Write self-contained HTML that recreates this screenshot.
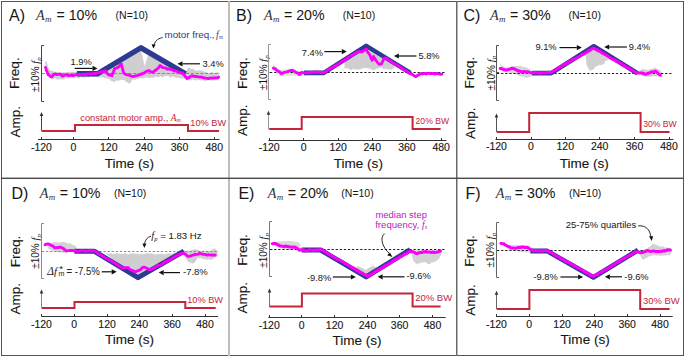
<!DOCTYPE html>
<html><head><meta charset="utf-8"><style>
html,body{margin:0;padding:0;background:#fff;overflow:hidden;}
svg{display:block;} text.b{stroke:#161616;stroke-width:0.12px;}
</style></head><body>
<svg width="685" height="357" viewBox="0 0 685 357">
<rect width="685" height="357" fill="#fff"/>
<g fill="#161616" font-family='"Liberation Sans", sans-serif'>
<rect x="1.5" y="1.5" width="682" height="354" fill="none" stroke="#555" stroke-width="1"/>
<rect x="228" y="1" width="2" height="355" fill="#bdbdbd"/>
<rect x="456" y="1" width="1.5" height="355" fill="#6a6a6a"/>
<rect x="1" y="177.6" width="683" height="1.4" fill="#4a4a4a"/>
<text x="9.0" y="21.299999999999997" font-size="16">A)</text>
<text x="36.1" y="19.5" font-size="14.2" font-family='"Liberation Serif", serif' font-style="italic" fill="#333">A</text>
<text x="45.1" y="21.9" font-size="9" font-family='"Liberation Serif", serif' font-style="italic" fill="#333">m</text>
<text x="56.5" y="19.9" font-size="14.2">= 10%</text>
<text x="115.6" y="19.2" font-size="10.5">(N=10)</text>
<text class="b" transform="translate(19.3,73.2) rotate(-90)" text-anchor="middle" font-size="13.6" >Freq.</text>
<text class="b" transform="translate(19.7,121.7) rotate(-90)" text-anchor="middle" font-size="13.5" >Amp.</text>
<text transform="translate(39.2,74.6) rotate(-90)" text-anchor="middle" font-size="10">±10% <tspan font-family='"Liberation Serif", serif' font-style="italic" font-size="10.5">f</tspan><tspan font-family='"Liberation Serif", serif' font-style="italic" font-size="7" dy="1.5">p</tspan></text>
<path d="M44.0,45.5 H41.5 V101.5 H44.0 M41.5,73.5 H44.0" fill="none" stroke="#444" stroke-width="1"/>
<polygon points="45.0,61.0 47.0,62.0 48.0,67.0 50.0,70.0 54.0,71.5 58.0,72.0 62.0,72.5 70.0,72.0 80.0,72.0 90.0,72.5 98.0,72.5 110.0,64.0 125.0,55.0 138.8,49.0 141.0,50.0 144.6,66.3 148.3,54.6 165.0,62.0 183.0,71.0 186.0,72.0 186.5,71.0 187.0,69.9 187.5,69.1 188.0,68.0 189.0,67.5 190.0,67.5 191.0,68.9 192.0,69.0 193.0,68.6 194.0,69.4 195.0,70.3 196.0,70.2 197.0,71.1 198.0,70.5 199.0,70.3 200.0,70.6 201.0,70.8 202.0,70.6 203.0,70.7 204.0,71.8 205.0,72.0 206.0,71.7 207.0,72.3 208.0,73.1 209.0,73.3 210.0,72.9 211.0,72.1 212.0,72.5 213.0,72.3 214.0,73.3 215.0,72.0 216.0,73.1 217.0,72.0 218.0,72.4 219.0,72.5 219.0,73.7 219.0,75.6 219.0,76.2 219.0,77.5 219.0,77.6 219.0,78.6 219.0,80.0 210.0,80.5 209.0,79.8 208.0,80.4 207.0,80.4 206.0,81.1 205.0,80.8 204.0,80.7 203.0,80.5 202.0,79.5 201.0,80.8 200.0,80.0 199.0,79.9 198.0,80.2 197.0,79.4 196.0,79.9 195.0,80.9 194.0,79.6 193.0,79.6 192.0,80.1 191.0,80.2 190.0,80.5 189.0,80.2 188.0,79.9 187.0,79.0 186.0,78.4 185.0,79.0 184.0,78.5 183.0,78.2 182.0,78.5 181.0,78.3 180.0,78.4 179.0,77.7 178.0,77.4 177.0,77.7 176.0,77.9 175.0,77.0 174.0,77.2 173.0,76.0 172.0,76.5 171.0,77.6 170.0,77.6 169.0,76.3 168.0,76.1 167.0,75.7 166.0,75.9 165.0,76.5 164.0,75.8 163.0,77.5 162.0,77.5 161.0,76.4 160.0,75.9 159.0,77.5 158.0,77.1 157.0,77.6 156.0,76.6 155.0,77.0 154.0,77.7 153.0,77.7 152.0,77.6 151.0,77.7 150.0,77.9 149.0,77.5 148.0,78.5 147.0,77.1 146.0,77.7 145.0,78.0 144.0,77.9 143.0,78.3 142.0,79.0 141.0,77.8 140.0,78.6 139.0,78.8 138.0,79.0 137.0,78.9 136.0,79.4 135.0,79.7 134.0,79.6 133.0,79.5 132.3,80.2 131.5,80.7 130.8,82.5 130.1,82.9 129.3,83.4 128.6,83.8 127.7,82.3 126.8,82.1 125.8,81.9 124.9,80.2 124.0,80.0 123.0,79.9 122.0,79.9 121.0,79.4 120.0,80.6 119.0,80.0 118.0,81.2 117.0,80.5 116.0,80.8 115.0,81.4 114.0,82.3 113.1,82.1 112.3,80.7 111.4,81.1 110.6,80.9 109.7,78.8 108.9,79.4 108.0,78.5 107.0,78.7 106.0,78.3 105.0,78.2 104.0,77.4 103.0,76.9 102.0,78.1 101.0,76.6 100.0,77.0 99.0,77.7 98.0,77.5 97.0,76.8 96.0,77.0 95.0,76.6 94.0,76.5 93.0,77.6 92.0,76.2 91.0,76.5 90.0,77.0 89.0,77.9 88.0,76.8 87.0,77.3 86.0,77.4 85.0,77.6 84.0,77.9 83.0,77.9 82.0,77.0 81.0,77.2 80.0,77.5 79.0,78.4 78.0,78.3 77.0,77.5 76.0,77.3 75.0,77.6 74.0,78.4 73.0,77.4 72.0,77.1 71.0,77.2 70.0,78.0 69.0,77.6 68.0,78.9 67.0,77.7 66.0,77.7 65.0,78.9 64.0,79.3 63.0,79.6 62.0,79.5 61.0,79.7 60.0,79.0 59.0,79.6 58.0,79.8 57.0,78.9 56.0,79.7 55.0,78.2 54.0,78.6 53.0,79.8 52.0,79.0 46.0,73.0" fill="#cfcfcf"/>
<path d="M42,73.5 H220" stroke="#8a8a8a" stroke-width="1.2" stroke-dasharray="3,1.8"/>
<polyline points="79.5,73.8 97.5,73.8 141.0,47.8 183.2,72.4" fill="none" stroke="#2c3a91" stroke-width="5.4" stroke-linejoin="round" stroke-linecap="square"/>
<polyline points="45.4,67.4 45.9,68.3 46.3,70.1 46.8,71.3 47.3,72.0 47.7,73.5 48.2,74.7 49.3,75.4 50.5,76.4 51.6,77.0 52.5,76.3 53.4,74.8 54.3,74.2 55.5,73.9 56.8,74.7 58.0,74.5 60.0,74.0 61.0,74.9 62.0,76.0 63.3,75.9 64.7,74.9 66.0,75.0 67.3,75.1 68.7,75.5 70.0,75.5 71.2,75.1 72.5,75.7 73.8,75.5 75.0,75.0 76.2,74.5 77.5,74.3 78.8,74.7 80.0,74.5 81.2,74.9 82.5,74.4 83.8,74.2 85.0,74.5 86.2,74.3 87.5,73.8 88.8,73.9 90.0,74.0 91.2,73.8 92.4,73.8 93.6,73.5 94.8,73.4 96.0,73.5 97.2,72.9 98.3,72.8 99.5,72.3 100.6,71.7 101.8,72.1 102.9,71.5 104.0,71.2 105.2,70.7 106.1,71.5 107.1,73.3 108.0,74.2 108.9,75.0 110.3,75.1 111.8,75.8 112.3,74.4 112.8,73.6 113.2,72.3 113.7,71.3 114.2,69.6 114.7,68.5 115.9,68.3 117.2,67.7 118.4,67.0 119.4,65.8 120.3,64.9 121.3,63.8 121.6,65.4 121.9,66.7 122.2,67.7 122.6,69.0 122.9,69.8 123.2,71.3 123.5,72.8 125.0,74.0 126.4,74.7 127.6,74.9 128.8,75.0 130.1,75.6 131.3,76.1 132.5,76.4 133.7,76.5 135.0,76.0 136.2,75.7 137.5,75.4 138.8,75.0 140.0,74.8 141.1,74.1 142.3,73.6 143.4,73.2 144.6,72.8 145.7,71.8 146.8,71.2 147.9,71.2 149.0,70.4 150.2,71.5 151.5,71.8 152.7,72.4 153.9,71.5 155.1,70.4 156.3,69.9 157.2,68.8 158.2,68.1 159.1,66.8 160.0,65.5 161.2,66.3 162.4,67.3 163.6,67.7 164.8,67.8 166.0,68.3 167.1,69.0 168.3,69.0 169.5,69.2 170.7,69.5 171.9,69.7 173.2,70.3 174.4,71.1 175.6,70.6 176.8,71.4 178.2,72.0 179.7,72.4 181.2,72.8 182.6,72.8 183.3,74.0 184.1,75.0 184.8,75.8 185.5,76.8 186.3,77.7 187.0,78.7 188.1,77.6 189.2,77.6 190.3,76.6 191.4,75.8 192.9,75.8 194.5,76.3 196.0,76.5 197.5,76.7 198.9,76.8 200.4,77.1 201.8,77.2 203.1,77.6 204.5,78.0 205.9,78.2 207.2,78.3 208.6,78.6 210.0,78.0 211.3,78.1 212.7,78.2 213.9,77.7 215.1,77.8 216.4,77.9 217.6,77.6 218.8,77.1" fill="none" stroke="#fa00fa" stroke-width="2.8" stroke-linejoin="round" stroke-linecap="round"/>
<text x="70.5" y="64.6" font-size="9.9" fill="#161616" textLength="21.2" lengthAdjust="spacingAndGlyphs">1.9%</text>
<path d="M74.7,68.4 H92.5" stroke="#111" stroke-width="1.2"/>
<path d="M97.5,68.4 L92.5,65.80000000000001 L92.5,71.0 Z" fill="#111"/>
<text x="202.5" y="67" font-size="9.9" fill="#161616" textLength="21.2" lengthAdjust="spacingAndGlyphs">3.4%</text>
<path d="M200,63.8 H182.5" stroke="#111" stroke-width="1.2"/>
<path d="M177.5,63.8 L182.5,61.199999999999996 L182.5,66.39999999999999 Z" fill="#111"/>
<text x="164.5" y="38.1" font-size="9.8" fill="#2c3a91">motor freq.,<tspan dx="1.5" font-family='"Liberation Serif", serif' font-style="italic" font-size="9.5">f</tspan><tspan font-family='"Liberation Serif", serif' font-style="italic" font-size="5.5" dy="1.3" dx="0.2">m</tspan></text>
<path d="M162.6,37.6 C157,38.5 154.5,42 154,46" fill="none" stroke="#111" stroke-width="0.9"/>
<path d="M153.4,48.5 L151.6,44.2 L155.6,44.6 Z" fill="#111"/>
<path d="M41.5,130.6 V115" stroke="#444" stroke-width="1"/>
<path d="M41.5,112 L39.7,116 L43.3,116 Z" fill="#333"/>
<polyline points="41.6,131 75,131 75,125 188,125 188,131 219.1,131" fill="none" stroke="#c3253a" stroke-width="2"/>
<text x="80.2" y="120.7" font-size="9.4" fill="#c3253a">constant motor amp., <tspan font-family='"Liberation Serif", serif' font-style="italic">A</tspan><tspan font-family='"Liberation Serif", serif' font-style="italic" font-size="6" dy="1">m</tspan></text>
<text x="190.3" y="125.7" font-size="9.8" fill="#c3253a" textLength="35.9" lengthAdjust="spacingAndGlyphs">10% BW</text>
<path d="M38,139.5 H219.6 M41.5,139.5 V137.0 M73.5,139.5 V137.0 M108.5,139.5 V137.0 M144.5,139.5 V137.0 M179.5,139.5 V137.0 M214.5,139.5 V137.0" fill="none" stroke="#333" stroke-width="1"/>
<text class="b" x="41.4" y="150.5" font-size="10.5" text-anchor="middle">-120</text>
<text class="b" x="73.4" y="150.5" font-size="10.5" text-anchor="middle">0</text>
<text class="b" x="108.8" y="150.5" font-size="10.5" text-anchor="middle">120</text>
<text class="b" x="144" y="150.5" font-size="10.5" text-anchor="middle">240</text>
<text class="b" x="179.5" y="150.5" font-size="10.5" text-anchor="middle">360</text>
<text class="b" x="214.3" y="150.5" font-size="10.5" text-anchor="middle">480</text>
<text class="b" x="104.8" y="167.5" font-size="13.5" textLength="49.1" lengthAdjust="spacingAndGlyphs">Time (s)</text>
<text x="236.0" y="21.299999999999997" font-size="16">B)</text>
<text x="263.9" y="19.5" font-size="14.2" font-family='"Liberation Serif", serif' font-style="italic" fill="#333">A</text>
<text x="272.9" y="21.9" font-size="9" font-family='"Liberation Serif", serif' font-style="italic" fill="#333">m</text>
<text x="284.0" y="19.9" font-size="14.2">= 20%</text>
<text x="342.8" y="19.2" font-size="10.5">(N=10)</text>
<text class="b" transform="translate(246.60000000000002,73.2) rotate(-90)" text-anchor="middle" font-size="13.6" >Freq.</text>
<text class="b" transform="translate(247.0,120.35) rotate(-90)" text-anchor="middle" font-size="13.5" >Amp.</text>
<text transform="translate(267.2,72.6) rotate(-90)" text-anchor="middle" font-size="10">±10% <tspan font-family='"Liberation Serif", serif' font-style="italic" font-size="10.5">f</tspan><tspan font-family='"Liberation Serif", serif' font-style="italic" font-size="7" dy="1.5">p</tspan></text>
<path d="M271.0,44.5 H268.5 V99.5 H271.0 M268.5,72.5 H271.0" fill="none" stroke="#999" stroke-width="1"/>
<polygon points="273.0,62.0 275.0,66.0 280.0,70.0 290.0,69.0 300.0,71.0 308.0,71.0 310.0,75.0 300.0,76.0 290.0,75.5 280.0,76.0 275.0,72.0" fill="#dddddd"/>
<polygon points="344.5,60.0 356.3,53.0 359.1,52.0 361.9,52.5 364.7,50.5 366.4,50.0 370.0,51.0 386.0,60.7 394.4,64.5 394.4,68.5 393.3,68.6 392.3,69.0 391.2,70.0 390.1,69.1 389.1,69.4 388.0,69.5 387.0,69.5 386.0,68.4 385.0,69.0 384.0,69.1 383.0,69.3 382.0,67.4 381.0,67.7 380.0,68.0 379.0,67.2 378.0,69.1 377.0,69.0 376.0,67.7 375.0,70.1 374.0,70.2 373.0,69.7 372.0,69.5 371.0,69.7 370.0,68.4 369.0,68.0 368.0,69.1 367.0,67.8 366.0,68.0 365.0,68.0 364.0,68.5 363.0,67.5 362.0,68.7 361.0,68.7 360.0,69.8 359.0,69.2 358.0,69.6 357.0,69.4 356.0,69.5 355.0,69.8 354.0,69.1 353.0,68.6 352.0,70.2 351.0,70.1 350.0,69.6 349.0,69.1 348.0,68.5 346.8,68.2 345.7,68.2 344.5,69.0" fill="#cfcfcf"/>
<path d="M270,72.5 H446" stroke="#222" stroke-width="1" stroke-dasharray="2.3,1.8"/>
<polyline points="306.3,72.9 323.8,72.9 366.2,45.9 408.4,71.7" fill="none" stroke="#2c3a91" stroke-width="4.6" stroke-linejoin="round" stroke-linecap="square"/>
<polyline points="273.3,67.9 274.4,68.9 275.5,69.0 276.9,70.5 278.3,71.2 279.2,71.6 280.2,72.4 281.1,73.5 282.5,73.3 283.9,72.4 285.4,72.2 286.9,71.8 288.4,71.2 289.7,70.7 291.0,70.6 292.3,70.1 293.7,71.0 295.1,71.8 296.2,72.6 297.4,72.9 298.5,73.8 299.6,74.6 300.7,73.4 301.8,72.4 303.5,72.9 305.2,72.9 306.9,73.1 308.6,72.4 309.8,72.8 311.0,72.4 312.3,72.4 313.5,72.2 314.7,72.0 315.9,72.0 317.1,72.4 318.3,72.2 319.6,72.3 320.8,72.8 322.0,72.4 324.2,72.5 325.2,71.9 326.3,71.3 327.3,70.3 328.3,69.5 329.4,69.1 330.4,68.3 331.4,68.0 332.5,67.8 333.5,66.9 334.6,65.8 335.6,65.8 336.6,65.0 337.7,64.3 338.7,63.8 339.7,63.1 340.8,62.4 341.8,61.4 342.8,61.3 343.9,60.7 344.9,59.3 345.9,59.2 347.0,58.5 348.0,57.6 349.1,57.0 350.1,56.4 351.1,56.1 352.2,55.1 353.2,54.7 354.2,53.7 355.3,53.5 356.3,52.5 357.7,52.3 359.1,51.4 360.5,51.7 361.9,52.0 363.3,51.0 364.7,49.8 366.4,49.2 366.9,50.7 367.5,51.7 368.0,52.6 368.9,53.7 369.7,54.8 370.2,55.7 370.6,56.9 371.1,58.3 371.5,59.0 372.0,60.4 372.5,59.5 373.1,57.6 373.6,56.5 374.3,58.0 375.0,58.6 375.7,60.3 376.4,61.0 377.3,62.3 378.3,63.2 379.2,64.3 381.5,63.8 382.1,62.7 382.6,61.7 383.2,60.5 383.7,59.2 384.3,58.2 386.0,58.2 387.0,58.6 388.0,59.5 389.1,60.5 390.1,60.9 391.1,61.1 392.1,62.4 393.1,63.0 394.2,63.8 395.2,63.8 396.2,64.9 397.2,65.0 398.2,66.1 399.3,66.4 400.3,67.1 401.3,68.3 402.3,68.2 403.4,69.3 404.4,70.2 405.4,70.3 406.4,70.9 407.4,72.2 408.5,72.4 409.5,73.3 410.5,73.8 411.8,74.1 413.0,75.1 414.2,75.7 415.5,76.7 416.6,76.2 417.8,75.0 418.9,75.1 420.0,74.0 421.2,73.5 422.5,74.1 423.8,73.4 425.0,73.5 426.2,74.0 427.5,73.3 428.8,73.3 430.0,73.5 431.2,73.7 432.4,73.5 433.6,73.3 434.8,74.2 436.0,73.5 437.2,73.4 438.4,73.8 439.6,74.1 440.8,74.3 442.0,74.1" fill="none" stroke="#fa00fa" stroke-width="2.8" stroke-linejoin="round" stroke-linecap="round"/>
<text x="301.8" y="56" font-size="9.9" fill="#161616" textLength="21.2" lengthAdjust="spacingAndGlyphs">7.4%</text>
<path d="M324.3,51.6 H341.8" stroke="#111" stroke-width="1.2"/>
<path d="M346.8,51.6 L341.8,49.0 L341.8,54.2 Z" fill="#111"/>
<text x="418.4" y="59.4" font-size="9.9" fill="#161616" textLength="21.2" lengthAdjust="spacingAndGlyphs">5.8%</text>
<path d="M416.5,56.0 H398.9" stroke="#111" stroke-width="1.2"/>
<path d="M393.9,56.0 L398.9,53.4 L398.9,58.6 Z" fill="#111"/>
<path d="M268.5,129.4 V113.8" stroke="#999" stroke-width="1"/>
<path d="M268.5,110.8 L266.7,114.8 L270.3,114.8 Z" fill="#333"/>
<polyline points="269.2,129 301.7,129 301.7,117 412.6,117 412.6,129 440.6,129" fill="none" stroke="#c3253a" stroke-width="2"/>
<text x="415.6" y="123.7" font-size="9.8" fill="#c3253a" textLength="33.4" lengthAdjust="spacingAndGlyphs">20% BW</text>
<path d="M268.4,140.5 H446.4 M269.5,140.5 V138.0 M303.5,140.5 V138.0 M338.5,140.5 V138.0 M372.5,140.5 V138.0 M406.5,140.5 V138.0 M441.5,140.5 V138.0" fill="none" stroke="#333" stroke-width="1"/>
<text class="b" x="269.2" y="150.9" font-size="10.5" text-anchor="middle">-120</text>
<text class="b" x="303.6" y="150.9" font-size="10.5" text-anchor="middle">0</text>
<text class="b" x="338.2" y="150.9" font-size="10.5" text-anchor="middle">120</text>
<text class="b" x="372.3" y="150.9" font-size="10.5" text-anchor="middle">240</text>
<text class="b" x="406.9" y="150.9" font-size="10.5" text-anchor="middle">360</text>
<text class="b" x="441.2" y="150.9" font-size="10.5" text-anchor="middle">480</text>
<text class="b" x="333.8" y="168.4" font-size="13.5" textLength="49.1" lengthAdjust="spacingAndGlyphs">Time (s)</text>
<text x="463.5" y="21.299999999999997" font-size="16">C)</text>
<text x="490.0" y="19.5" font-size="14.2" font-family='"Liberation Serif", serif' font-style="italic" fill="#333">A</text>
<text x="499.0" y="21.9" font-size="9" font-family='"Liberation Serif", serif' font-style="italic" fill="#333">m</text>
<text x="510.0" y="19.9" font-size="14.2">= 30%</text>
<text x="568.5" y="19.2" font-size="10.5">(N=10)</text>
<text class="b" transform="translate(473.8,72.7) rotate(-90)" text-anchor="middle" font-size="13.6" >Freq.</text>
<text class="b" transform="translate(474.7,123.2) rotate(-90)" text-anchor="middle" font-size="13.5" >Amp.</text>
<text transform="translate(494.7,73.2) rotate(-90)" text-anchor="middle" font-size="10">±10% <tspan font-family='"Liberation Serif", serif' font-style="italic" font-size="10.5">f</tspan><tspan font-family='"Liberation Serif", serif' font-style="italic" font-size="7" dy="1.5">p</tspan></text>
<path d="M499.0,45.5 H496.5 V100.5 H499.0 M496.5,72.5 H499.0" fill="none" stroke="#555" stroke-width="1"/>
<polygon points="499.0,62.0 502.0,66.0 506.0,68.0 514.0,66.0 520.0,66.0 521.0,65.5 522.0,66.6 523.0,67.4 524.0,66.6 525.0,67.0 526.0,67.5 527.0,67.6 528.0,68.6 529.0,68.9 530.0,69.0 530.7,70.2 531.3,71.8 532.0,72.0 532.0,73.3 532.0,73.7 532.0,74.8 532.0,76.0 527.0,78.0 520.0,76.0 512.0,73.0 503.0,72.0" fill="#d6d6d6"/>
<polygon points="585.7,54.8 594.0,48.0 600.0,52.0 605.0,56.0 609.2,59.3 608.1,59.4 607.1,60.7 606.0,61.0 605.2,60.8 604.4,64.0 603.6,63.8 602.4,64.8 601.2,65.5 600.0,64.5 599.0,64.7 598.0,66.0 597.2,65.9 596.4,66.1 595.6,67.1 594.8,67.3 594.0,69.0 592.9,69.8 591.8,69.4 590.7,70.9 589.6,70.5 586.5,64.9" fill="#d0d0d0"/>
<polygon points="638.0,72.0 642.0,69.0 648.0,70.0 655.0,68.0 660.0,70.0 662.0,73.0 662.0,77.0 655.0,76.0 648.0,77.0 642.0,76.0" fill="#cfcfcf"/>
<path d="M497,73.5 H673" stroke="#222" stroke-width="1" stroke-dasharray="2.3,1.8"/>
<polyline points="534.3,73.1 551.3,73.1 593.8,46.3 635.4,72.1" fill="none" stroke="#2c3a91" stroke-width="4.6" stroke-linejoin="round" stroke-linecap="square"/>
<polyline points="500.2,68.4 501.6,68.6 503.0,69.3 504.6,69.7 506.3,70.1 507.7,69.6 509.1,69.3 510.5,68.8 511.9,68.2 514.2,68.7 515.3,69.5 516.4,69.8 517.5,70.9 519.2,70.8 520.9,71.6 522.2,71.9 523.6,71.5 524.9,71.5 526.3,72.2 527.6,71.8 529.1,72.1 530.6,72.7 532.1,72.7 533.4,72.7 534.7,72.8 535.9,72.4 537.2,72.8 538.5,73.0 539.8,72.7 541.0,72.9 542.3,72.9 543.6,72.3 544.9,72.9 546.2,72.8 547.4,72.5 548.7,72.3 550.0,72.7 551.1,72.4 552.1,71.5 553.2,71.1 554.3,70.6 555.3,69.9 556.4,69.5 557.5,68.4 558.5,68.2 559.6,67.2 560.7,67.1 561.8,66.4 562.8,65.1 563.9,64.5 565.0,64.0 566.0,64.1 567.1,63.0 568.2,62.6 569.2,61.7 570.3,61.3 571.4,60.5 572.4,59.9 573.5,59.5 574.6,58.9 575.6,58.6 576.7,57.8 577.8,57.4 578.8,56.8 579.9,56.3 581.0,55.4 582.0,54.3 583.1,54.3 584.2,53.8 585.3,53.2 586.3,52.3 587.4,51.8 588.5,50.8 589.5,50.7 590.6,49.9 591.7,49.0 592.7,48.2 593.8,48.0 594.9,48.9 595.9,49.7 597.0,49.5 598.0,50.7 599.1,51.0 600.1,51.3 601.2,52.1 602.2,53.1 603.3,53.8 604.3,53.7 605.4,54.8 606.4,54.9 607.5,56.1 608.6,56.4 609.6,57.5 610.7,58.2 611.7,58.4 612.8,59.4 613.8,59.4 614.9,59.8 615.9,60.9 617.0,61.0 618.0,61.8 619.1,62.6 620.1,63.3 621.2,63.5 622.2,64.1 623.3,65.4 624.4,65.5 625.4,66.7 626.5,67.3 627.5,67.4 628.6,68.1 629.6,68.7 630.7,69.5 631.7,70.0 632.8,70.6 633.8,71.3 634.9,72.2 635.9,72.4 637.0,73.0 638.3,72.9 639.5,73.1 640.8,72.9 642.1,73.0 643.4,73.5 644.7,74.0 646.0,74.2 647.2,73.5 648.5,73.2 649.7,72.9 651.1,72.0 652.5,72.0 653.9,71.7 655.3,71.2 656.5,71.6 657.6,72.9 658.5,73.8 659.5,74.6 660.4,75.2" fill="none" stroke="#fa00fa" stroke-width="3.0" stroke-linejoin="round" stroke-linecap="round"/>
<text x="535.4" y="50.4" font-size="9.9" fill="#161616" textLength="21.2" lengthAdjust="spacingAndGlyphs">9.1%</text>
<path d="M559.5,47.6 H576.8" stroke="#111" stroke-width="1.2"/>
<path d="M581.8,47.6 L576.8,45.0 L576.8,50.2 Z" fill="#111"/>
<text x="628.8" y="50.2" font-size="9.9" fill="#161616" textLength="21.2" lengthAdjust="spacingAndGlyphs">9.4%</text>
<path d="M626.9,47.0 H609.2" stroke="#111" stroke-width="1.2"/>
<path d="M604.2,47.0 L609.2,44.4 L609.2,49.6 Z" fill="#111"/>
<path d="M496.5,131.8 V116.4" stroke="#555" stroke-width="1"/>
<path d="M496.5,113.4 L494.7,117.4 L498.3,117.4 Z" fill="#333"/>
<polyline points="496.8,132 529.2,132 529.2,113 640.6,113 640.6,132 669.6,132" fill="none" stroke="#c3253a" stroke-width="2"/>
<text x="643.2" y="126.8" font-size="9.8" fill="#c3253a" textLength="33.5" lengthAdjust="spacingAndGlyphs">30% BW</text>
<path d="M495.5,139.5 H673.4 M496.5,139.5 V137.0 M531.5,139.5 V137.0 M565.5,139.5 V137.0 M599.5,139.5 V137.0 M634.5,139.5 V137.0 M669.5,139.5 V137.0" fill="none" stroke="#333" stroke-width="1"/>
<text class="b" x="496.4" y="150.1" font-size="10.5" text-anchor="middle">-120</text>
<text class="b" x="531" y="150.1" font-size="10.5" text-anchor="middle">0</text>
<text class="b" x="565.3" y="150.1" font-size="10.5" text-anchor="middle">120</text>
<text class="b" x="599.7" y="150.1" font-size="10.5" text-anchor="middle">240</text>
<text class="b" x="634.5" y="150.1" font-size="10.5" text-anchor="middle">360</text>
<text class="b" x="669" y="150.1" font-size="10.5" text-anchor="middle">480</text>
<text class="b" x="559.7" y="167.8" font-size="13.5" textLength="49.1" lengthAdjust="spacingAndGlyphs">Time (s)</text>
<text x="11.4" y="199.3" font-size="16">D)</text>
<text x="39.7" y="197.5" font-size="14.2" font-family='"Liberation Serif", serif' font-style="italic" fill="#333">A</text>
<text x="48.7" y="199.9" font-size="9" font-family='"Liberation Serif", serif' font-style="italic" fill="#333">m</text>
<text x="59.8" y="197.9" font-size="14.2">= 10%</text>
<text x="113.9" y="197.20000000000002" font-size="10.5">(N=10)</text>
<text class="b" transform="translate(19.8,251.5) rotate(-90)" text-anchor="middle" font-size="13.6" >Freq.</text>
<text class="b" transform="translate(19.7,298.7) rotate(-90)" text-anchor="middle" font-size="13.5" >Amp.</text>
<text transform="translate(39.2,251.4) rotate(-90)" text-anchor="middle" font-size="10">±10% <tspan font-family='"Liberation Serif", serif' font-style="italic" font-size="10.5">f</tspan><tspan font-family='"Liberation Serif", serif' font-style="italic" font-size="7" dy="1.5">p</tspan></text>
<path d="M44.0,223.5 H41.5 V278.5 H44.0 M41.5,251.5 H44.0" fill="none" stroke="#888" stroke-width="1"/>
<polygon points="47.0,243.5 48.0,243.1 49.0,242.7 50.0,242.4 51.0,243.4 52.0,242.7 53.0,242.7 54.0,242.3 55.0,242.0 56.0,241.8 57.0,242.4 58.0,242.1 59.0,242.4 60.0,242.3 61.0,242.5 62.0,242.0 63.0,242.1 64.0,241.8 65.0,242.0 66.0,243.1 67.0,242.4 68.0,243.4 69.0,243.5 70.0,243.5 71.0,243.3 72.0,245.0 73.0,245.0 74.0,244.6 75.0,246.3 76.0,246.0 77.0,251.0 62.0,252.5 55.0,252.0 48.0,248.5" fill="#d4d4d4"/>
<polygon points="106.0,253.5 107.0,253.0 108.0,253.8 109.0,253.7 110.0,253.5 111.0,253.0 112.0,254.0 113.0,254.0 114.0,253.5 115.0,253.5 116.0,253.6 117.0,253.3 118.0,253.0 119.0,253.7 120.0,254.0 121.0,254.1 122.0,253.2 123.0,254.3 124.0,253.4 125.0,253.3 126.0,253.0 127.0,254.4 128.0,254.0 129.0,254.2 130.0,253.5 131.0,253.7 132.0,252.9 133.0,253.4 134.0,253.7 135.0,253.1 136.0,254.5 137.0,253.6 138.0,253.3 139.0,254.5 140.0,254.0 141.0,253.3 142.0,254.6 143.0,253.8 144.0,253.9 145.0,253.5 146.0,253.7 147.0,253.1 148.0,252.9 149.0,254.1 150.0,253.5 151.0,253.1 152.0,254.0 153.0,253.2 154.0,254.5 155.0,254.4 156.0,254.2 157.0,254.3 158.0,254.0 159.0,254.3 160.0,254.0 161.0,253.3 162.0,253.9 163.0,254.4 164.0,253.3 165.0,254.4 166.0,254.3 167.0,253.5 168.0,253.4 169.0,253.5 170.0,253.5 171.0,253.3 172.0,254.3 173.0,253.3 174.0,252.7 175.0,252.8 176.0,253.8 177.0,254.3 178.0,253.5 151.7,269.3 148.9,269.7 146.1,267.9 143.3,267.2 139.8,270.0 135.6,271.7 130.7,270.0 127.9,267.5 125.1,267.9 122.3,268.6" fill="#cfcfcf"/>
<polygon points="131.0,270.0 136.0,272.0 140.0,271.0 144.0,268.0 150.0,270.0 146.0,275.0 138.0,275.0" fill="#cfcfcf"/>
<polygon points="183.0,251.0 184.0,250.3 185.0,250.5 186.0,250.8 187.0,251.3 188.0,250.5 189.0,250.5 190.0,251.0 191.0,250.2 192.0,250.6 193.0,249.3 194.0,249.7 195.0,249.0 196.0,249.6 197.0,249.3 198.0,250.2 199.0,250.5 200.0,251.0 201.0,250.9 202.0,251.7 203.0,250.4 204.0,250.3 205.0,251.6 206.0,250.9 207.0,250.6 208.0,250.8 209.0,250.8 210.0,251.0 211.0,251.1 212.0,249.6 213.0,249.1 214.0,249.1 215.0,248.5 216.0,249.4 217.0,250.8 218.0,251.0 217.0,257.0 216.0,256.8 215.0,257.4 214.0,258.0 213.0,259.4 212.0,259.1 211.0,259.9 210.0,260.0 209.0,259.2 208.0,259.6 207.0,259.9 206.0,259.2 205.0,259.0 204.0,259.6 203.0,259.3 202.0,258.4 201.0,257.6 200.0,258.7 199.0,257.5 198.0,258.0 197.3,258.1 196.6,260.1 195.9,261.1 195.1,262.0 194.4,263.0 193.7,262.7 193.0,264.0 192.0,262.9 191.0,262.6 190.0,263.6 189.0,261.8 188.0,262.0 187.4,260.6 186.9,259.5 186.3,258.7 185.7,257.8 185.1,257.5 184.6,256.3 184.0,256.0" fill="#cfcfcf"/>
<path d="M42,251.5 H217.4" stroke="#8a8a8a" stroke-width="1.1" stroke-dasharray="2.3,1.8"/>
<polyline points="76.9,251.2 94.2,251.2 138.0,277.6 181.8,252.4" fill="none" stroke="#2c3a91" stroke-width="5.0" stroke-linejoin="round" stroke-linecap="square"/>
<polyline points="45.0,244.7 46.4,244.1 47.8,244.0 49.0,244.1 50.1,244.8 51.3,245.4 52.5,245.9 53.6,246.7 54.8,247.9 56.2,247.6 57.6,247.5 59.0,247.5 60.4,246.8 61.8,247.8 63.2,248.2 64.1,249.4 65.1,249.8 66.0,251.0 67.4,250.8 68.8,250.5 70.2,250.4 71.6,250.5 73.0,250.5 74.4,251.0 75.6,250.7 76.9,251.4 78.1,251.3 79.3,251.2 80.5,251.2 81.8,250.6 83.0,250.7 84.2,251.0 85.4,251.1 86.7,251.2 87.9,251.2 89.1,250.5 90.3,250.9 91.5,251.0 92.8,250.8 94.0,250.8 95.0,251.1 96.1,252.0 97.1,252.3 98.2,253.7 99.2,254.3 100.3,254.6 101.3,255.0 102.4,256.2 103.4,256.5 104.5,257.4 105.5,258.0 106.6,258.4 107.6,258.9 108.7,259.7 109.7,260.2 110.8,260.6 111.8,261.3 112.9,262.4 113.9,262.4 115.0,263.0 116.0,264.1 117.1,264.5 118.1,265.3 119.2,265.9 120.2,266.4 121.3,267.6 122.3,267.8 123.7,267.6 125.1,267.9 126.5,267.6 127.9,267.5 128.8,268.1 129.8,269.3 130.7,270.0 131.9,270.2 133.1,270.7 134.4,271.5 135.6,271.7 137.0,271.0 138.4,270.6 139.8,270.0 141.0,269.4 142.1,267.8 143.3,267.2 144.7,267.2 146.1,267.9 147.5,268.6 148.9,269.7 150.3,269.7 151.7,269.3 152.8,268.8 153.9,267.9 155.0,267.4 156.0,266.7 157.1,266.3 158.2,265.4 159.3,265.4 160.4,265.0 161.5,264.4 162.6,263.7 163.6,263.3 164.7,261.8 165.8,261.5 166.9,261.5 168.0,260.8 169.1,259.9 170.1,259.8 171.2,258.9 172.3,258.5 173.4,257.4 174.5,256.7 175.6,256.4 176.7,255.5 177.7,255.1 178.8,255.1 179.9,253.9 181.0,253.5 182.8,253.2 184.5,253.7 185.4,254.1 186.4,255.0 187.3,256.1 188.7,256.4 190.1,256.1 191.3,255.6 192.4,255.2 193.6,255.1 195.3,254.4 197.1,254.4 198.5,254.1 199.9,253.0 201.3,253.6 202.7,254.4 204.1,254.4 205.5,254.5 206.9,255.1 208.7,254.7 210.4,255.1 211.6,254.8 212.9,255.3 214.1,254.8 215.3,255.1" fill="none" stroke="#fa00fa" stroke-width="2.8" stroke-linejoin="round" stroke-linecap="round"/>
<text x="151.3" y="239.2" font-size="9.6" fill="#161616"><tspan font-family='"Liberation Serif", serif' font-style="italic" font-size="10.5">f</tspan><tspan font-family='"Liberation Serif", serif' font-style="italic" font-size="6.5" dy="1.5">p</tspan><tspan dy="-1.5"> = 1.83 Hz</tspan></text>
<path d="M151,236 C147,237.5 145,240 144.5,244.5" fill="none" stroke="#111" stroke-width="0.9"/>
<path d="M144.3,248 L142.4,243.6 L146.4,243.8 Z" fill="#111"/>
<text x="47.3" y="274.7" font-size="11.5" font-family='"Liberation Serif", serif' font-style="italic" fill="#222">Δ</text>
<text x="54" y="274.7" font-size="11" font-family='"Liberation Serif", serif' font-style="italic" fill="#222">f</text>
<text x="58.6" y="276" font-size="7" fill="#222">m</text>
<text x="59.3" y="272.2" font-size="9.5" fill="#222">*</text>
<text x="66.4" y="274.7" font-size="10" fill="#222" textLength="33.4" lengthAdjust="spacingAndGlyphs">= -7.5%</text>
<path d="M101.7,271.8 H111.7" stroke="#111" stroke-width="1.2"/>
<path d="M116.7,271.8 L111.7,269.2 L111.7,274.40000000000003 Z" fill="#111"/>
<text x="183" y="275.2" font-size="9.9" fill="#161616" textLength="24.8" lengthAdjust="spacingAndGlyphs">-7.8%</text>
<path d="M180,272.6 H163.7" stroke="#111" stroke-width="1.2"/>
<path d="M158.7,272.6 L163.7,270.0 L163.7,275.20000000000005 Z" fill="#111"/>
<path d="M41.5,307.6 V292.5" stroke="#888" stroke-width="1"/>
<path d="M41.5,289.5 L39.7,293.5 L43.3,293.5 Z" fill="#333"/>
<polyline points="41.6,308 74.5,308 74.5,302 185.3,302 185.3,308 215.7,308" fill="none" stroke="#c3253a" stroke-width="2"/>
<text x="187.2" y="303" font-size="9.8" fill="#c3253a" textLength="35.9" lengthAdjust="spacingAndGlyphs">10% BW</text>
<path d="M41.4,316.5 H218.1 M41.5,316.5 V314.0 M74.5,316.5 V314.0 M107.5,316.5 V314.0 M139.5,316.5 V314.0 M172.5,316.5 V314.0 M205.5,316.5 V314.0" fill="none" stroke="#333" stroke-width="1"/>
<text class="b" x="41.4" y="327.8" font-size="10.5" text-anchor="middle">-120</text>
<text class="b" x="74.2" y="327.8" font-size="10.5" text-anchor="middle">0</text>
<text class="b" x="107.1" y="327.8" font-size="10.5" text-anchor="middle">120</text>
<text class="b" x="139.3" y="327.8" font-size="10.5" text-anchor="middle">240</text>
<text class="b" x="172.2" y="327.8" font-size="10.5" text-anchor="middle">360</text>
<text class="b" x="205" y="327.8" font-size="10.5" text-anchor="middle">480</text>
<text class="b" x="105" y="344.1" font-size="13.5" textLength="49.1" lengthAdjust="spacingAndGlyphs">Time (s)</text>
<text x="238.4" y="199.3" font-size="16">E)</text>
<text x="267.7" y="197.5" font-size="14.2" font-family='"Liberation Serif", serif' font-style="italic" fill="#333">A</text>
<text x="276.7" y="199.9" font-size="9" font-family='"Liberation Serif", serif' font-style="italic" fill="#333">m</text>
<text x="287.8" y="197.9" font-size="14.2">= 20%</text>
<text x="341.3" y="197.20000000000002" font-size="10.5">(N=10)</text>
<text class="b" transform="translate(247.20000000000002,250) rotate(-90)" text-anchor="middle" font-size="13.6" >Freq.</text>
<text class="b" transform="translate(247.0,297.75) rotate(-90)" text-anchor="middle" font-size="13.5" >Amp.</text>
<text transform="translate(267.2,250.4) rotate(-90)" text-anchor="middle" font-size="10">±10% <tspan font-family='"Liberation Serif", serif' font-style="italic" font-size="10.5">f</tspan><tspan font-family='"Liberation Serif", serif' font-style="italic" font-size="7" dy="1.5">p</tspan></text>
<path d="M272.0,221.5 H269.5 V276.5 H272.0 M269.5,249.5 H272.0" fill="none" stroke="#777" stroke-width="1"/>
<polygon points="276.0,243.0 278.0,241.5 290.0,241.0 298.0,242.0 300.0,244.0 301.0,249.0 290.0,250.0 280.0,248.0 275.0,246.0" fill="#d9d9d9"/>
<polygon points="355.0,268.0 358.0,266.0 362.0,268.0 366.0,270.0 370.0,267.0 374.0,266.0 378.0,270.0 372.0,276.0 360.0,276.0" fill="#cfcfcf"/>
<polygon points="411.0,251.0 420.0,250.0 430.0,250.5 441.0,250.0 441.0,255.0 440.4,256.0 439.8,257.1 439.2,258.6 438.6,258.6 438.0,260.0 437.0,260.1 436.0,261.4 435.0,261.5 434.0,261.7 433.0,262.3 432.0,262.7 431.0,262.8 430.0,264.0 429.0,263.9 428.0,264.0 427.0,263.2 426.0,262.7 425.0,262.0 424.0,261.9 423.0,262.4 422.0,262.0 421.0,263.5 420.0,262.8 419.0,263.1 418.0,264.7 417.0,264.0 416.2,262.9 415.4,263.4 414.6,261.8 413.8,261.3 413.0,260.0" fill="#d2d2d2"/>
<path d="M270,249.5 H445.4" stroke="#222" stroke-width="1" stroke-dasharray="2.3,1.8"/>
<polyline points="304.2,250.0 320.6,250.0 366.2,276.9 408.1,250.9" fill="none" stroke="#2c3a91" stroke-width="5.0" stroke-linejoin="round" stroke-linecap="square"/>
<polyline points="272.3,243.7 273.7,243.6 275.1,243.3 276.5,244.2 277.9,244.7 279.1,245.4 280.2,246.0 281.4,246.1 282.8,246.4 284.2,246.7 285.6,246.0 287.0,246.5 288.4,246.6 289.8,247.1 291.2,247.0 292.6,247.3 294.0,247.1 295.4,247.3 296.8,248.2 298.2,249.2 299.6,250.3 301.4,249.7 303.1,249.6 304.1,250.3 305.2,251.0 306.6,250.7 308.0,250.3 309.3,249.8 310.5,250.0 311.8,250.0 313.0,250.5 314.3,250.4 315.5,249.8 316.8,250.3 318.0,249.7 319.3,250.1 320.5,249.6 321.8,249.9 322.9,250.1 323.9,251.5 325.0,251.5 326.0,252.1 327.1,253.4 328.2,253.9 329.2,254.0 330.3,255.2 331.3,255.5 332.4,256.2 333.5,256.4 334.5,257.7 335.6,258.1 336.6,258.9 337.7,259.5 338.8,259.6 339.8,260.3 340.9,260.7 341.9,261.3 343.0,261.8 344.1,262.7 345.1,263.6 346.2,263.6 347.3,264.9 348.3,265.2 349.4,265.8 350.4,266.8 351.5,267.1 352.6,267.6 353.6,268.4 354.7,269.2 355.7,269.2 356.8,270.7 357.9,270.4 358.9,271.7 360.0,272.4 361.0,272.3 362.1,273.6 363.2,273.8 364.2,274.6 365.3,274.7 366.3,275.4 367.4,276.4 368.4,275.5 369.5,275.6 370.5,274.3 371.6,274.2 372.6,273.7 373.6,273.1 374.7,272.0 375.7,271.3 376.8,270.9 377.8,270.5 378.8,269.3 379.9,269.2 380.9,268.7 382.0,268.1 383.0,266.8 384.0,267.0 385.1,265.6 386.1,265.2 387.2,264.8 388.2,264.5 389.2,263.3 390.3,263.3 391.3,262.3 392.4,261.5 393.4,260.9 394.4,260.1 395.5,259.4 396.5,258.9 397.6,258.7 398.6,258.4 399.6,257.0 400.7,256.3 401.7,256.5 402.8,255.5 403.8,254.8 404.8,254.0 405.9,253.7 406.9,253.3 408.0,252.4 409.0,251.8 411.1,251.5 412.3,251.8 413.4,251.8 414.6,252.5 416.0,253.4 417.4,253.5 418.6,252.7 419.7,252.8 420.9,252.5 422.1,252.6 423.4,251.7 424.6,252.0 425.8,251.5 427.2,252.1 428.6,252.0 430.0,252.1 431.4,252.5 432.8,252.0 434.2,252.5 435.9,252.2 437.7,252.1 439.1,251.3 440.5,251.1" fill="none" stroke="#fa00fa" stroke-width="3.0" stroke-linejoin="round" stroke-linecap="round"/>
<text x="307" y="280.6" font-size="9.9" fill="#161616" textLength="24.3" lengthAdjust="spacingAndGlyphs">-9.8%</text>
<path d="M332.8,277.0 H350.9" stroke="#111" stroke-width="1.2"/>
<path d="M355.9,277.0 L350.9,274.4 L350.9,279.6 Z" fill="#111"/>
<text x="406.4" y="278.6" font-size="9.9" fill="#161616" textLength="24.3" lengthAdjust="spacingAndGlyphs">-9.6%</text>
<path d="M404.5,276.8 H382.6" stroke="#111" stroke-width="1.2"/>
<path d="M377.6,276.8 L382.6,274.2 L382.6,279.40000000000003 Z" fill="#111"/>
<text x="401.2" y="217.8" font-size="9.6" fill="#b818c4" text-anchor="middle" textLength="51.5" lengthAdjust="spacingAndGlyphs">median step</text>
<text x="401.2" y="227.6" font-size="9.6" fill="#b818c4" text-anchor="middle">frequency, <tspan font-family='"Liberation Serif", serif' font-style="italic">f</tspan><tspan font-family='"Liberation Serif", serif' font-style="italic" font-size="6.5" dy="1.5">s</tspan></text>
<path d="M384.6,233.6 C379,238 383,248 389.5,253.5" fill="none" stroke="#111" stroke-width="0.9"/>
<path d="M392.3,257 L387.2,255.3 L390,252.4 Z" fill="#111"/>
<path d="M269.5,306.3 V291.5" stroke="#777" stroke-width="1"/>
<path d="M269.5,288.5 L267.7,292.5 L271.3,292.5 Z" fill="#333"/>
<polyline points="269.3,306.5 301.9,306.5 301.9,293.5 412.6,293.5 412.6,306.5 440.6,306.5" fill="none" stroke="#c3253a" stroke-width="2"/>
<text x="415.2" y="301" font-size="9.9" fill="#c3253a" textLength="37" lengthAdjust="spacingAndGlyphs">20% BW</text>
<path d="M268.3,317.5 H445.6 M269.5,317.5 V315.0 M301.5,317.5 V315.0 M334.5,317.5 V315.0 M367.5,317.5 V315.0 M399.5,317.5 V315.0 M432.5,317.5 V315.0" fill="none" stroke="#333" stroke-width="1"/>
<text class="b" x="269.3" y="328.6" font-size="10.5" text-anchor="middle">-120</text>
<text class="b" x="301.7" y="328.6" font-size="10.5" text-anchor="middle">0</text>
<text class="b" x="334.6" y="328.6" font-size="10.5" text-anchor="middle">120</text>
<text class="b" x="367.5" y="328.6" font-size="10.5" text-anchor="middle">240</text>
<text class="b" x="399.6" y="328.6" font-size="10.5" text-anchor="middle">360</text>
<text class="b" x="432.5" y="328.6" font-size="10.5" text-anchor="middle">480</text>
<text class="b" x="332.5" y="344.7" font-size="13.5" textLength="49.1" lengthAdjust="spacingAndGlyphs">Time (s)</text>
<text x="465.4" y="199.3" font-size="16">F)</text>
<text x="495.7" y="197.5" font-size="14.2" font-family='"Liberation Serif", serif' font-style="italic" fill="#333">A</text>
<text x="504.7" y="199.9" font-size="9" font-family='"Liberation Serif", serif' font-style="italic" fill="#333">m</text>
<text x="514.8" y="197.9" font-size="14.2">= 30%</text>
<text x="568.9" y="197.20000000000002" font-size="10.5">(N=10)</text>
<text class="b" transform="translate(474.3,251) rotate(-90)" text-anchor="middle" font-size="13.6" >Freq.</text>
<text class="b" transform="translate(474.5,299.95) rotate(-90)" text-anchor="middle" font-size="13.5" >Amp.</text>
<text transform="translate(494.2,250.2) rotate(-90)" text-anchor="middle" font-size="10">±10% <tspan font-family='"Liberation Serif", serif' font-style="italic" font-size="10.5">f</tspan><tspan font-family='"Liberation Serif", serif' font-style="italic" font-size="7" dy="1.5">p</tspan></text>
<path d="M499.0,222.5 H496.5 V277.5 H499.0 M496.5,250.5 H499.0" fill="none" stroke="#666" stroke-width="1"/>
<polygon points="505.0,245.0 515.0,245.0 528.0,245.0 533.0,248.0 533.0,253.0 520.0,252.0 508.0,250.0" fill="#dddddd"/>
<polygon points="640.0,251.0 641.0,250.2 642.0,250.3 643.0,249.4 644.0,250.2 645.0,248.8 646.0,249.0 646.8,248.5 647.6,248.6 648.4,247.0 649.2,247.4 650.0,246.0 651.0,245.6 652.0,244.4 653.0,243.5 654.0,244.1 655.0,244.4 656.0,244.4 657.0,245.0 658.0,246.2 659.0,245.5 660.0,246.8 661.0,246.9 662.0,245.7 663.0,246.4 664.0,247.1 665.0,247.5 666.0,248.1 667.0,247.1 668.0,248.0 669.0,247.6 670.0,248.4 671.0,248.0 671.2,249.8 671.5,250.5 671.8,250.4 672.0,252.0 670.0,255.0 669.0,256.0 668.0,254.2 667.0,255.6 666.0,255.2 665.0,256.1 664.0,255.1 663.0,256.2 662.0,254.7 661.0,256.4 660.0,255.5 659.0,255.4 658.0,255.0 657.0,255.4 656.0,256.0 655.0,254.9 654.0,255.6 653.0,255.0 652.0,256.0 651.0,255.5 650.0,256.0 649.0,256.5 648.0,256.9 647.0,258.2 646.0,258.0 645.0,258.3 644.0,259.7 643.0,259.5 642.4,259.4 641.8,258.5 641.2,257.7 640.6,256.1 640.0,255.0" fill="#d2d2d2"/>
<path d="M497,250.5 H673.1" stroke="#222" stroke-width="1" stroke-dasharray="2.3,1.8"/>
<polyline points="532.8,251.0 547.2,251.0 593.4,277.4 636.0,251.4" fill="none" stroke="#2c3a91" stroke-width="4.8" stroke-linejoin="round" stroke-linecap="square"/>
<polyline points="501.0,243.3 502.4,243.8 503.8,243.7 505.0,244.8 506.1,245.3 507.3,246.1 508.5,246.5 509.6,246.9 510.8,247.9 512.2,248.1 513.6,248.1 515.0,248.2 516.4,248.2 517.8,247.6 519.2,247.5 520.6,247.6 522.0,247.0 523.4,247.1 524.8,247.5 526.2,247.6 527.6,247.5 529.0,248.5 530.4,249.6 531.8,250.2 533.2,250.7 534.5,250.9 535.7,250.4 537.0,250.7 538.3,250.9 539.6,250.4 540.8,250.9 542.1,250.8 543.4,250.9 544.7,250.5 545.9,250.2 547.2,250.6 548.2,251.5 549.3,252.1 550.4,252.3 551.4,252.6 552.5,253.3 553.5,254.3 554.6,254.5 555.6,255.7 556.6,256.0 557.7,256.2 558.8,257.2 559.8,257.6 560.9,258.7 561.9,259.2 563.0,259.5 564.0,260.2 565.1,260.8 566.1,261.5 567.1,262.3 568.2,262.0 569.2,262.9 570.3,263.7 571.4,264.0 572.4,264.9 573.5,265.0 574.5,266.3 575.5,266.6 576.6,266.8 577.6,267.9 578.7,268.2 579.8,268.6 580.8,269.5 581.9,269.8 582.9,270.4 584.0,271.6 585.0,272.1 586.0,272.0 587.1,273.3 588.1,273.2 589.2,274.1 590.2,275.2 591.3,275.5 592.4,275.8 593.4,276.6 594.4,275.9 595.5,275.3 596.5,274.4 597.6,274.6 598.6,273.1 599.6,272.9 600.7,272.6 601.7,271.6 602.8,271.5 603.8,270.3 604.8,270.3 605.9,269.6 606.9,268.8 607.9,268.4 609.0,267.4 610.0,267.1 611.1,266.5 612.1,265.6 613.1,265.0 614.2,264.6 615.2,263.7 616.3,262.8 617.3,262.8 618.3,261.8 619.4,261.3 620.4,261.0 621.5,259.8 622.5,259.1 623.5,258.6 624.6,258.4 625.6,257.6 626.6,256.9 627.7,256.4 628.7,256.3 629.8,255.0 630.8,254.6 631.8,254.4 632.9,253.5 633.9,252.6 635.0,252.2 636.0,251.6 637.4,252.0 638.8,252.1 640.2,252.8 641.6,252.5 643.0,252.5 644.2,251.7 645.3,251.6 646.5,250.7 647.8,250.6 649.0,251.0 650.3,251.4 651.5,251.4 652.8,251.1 654.2,251.1 655.6,251.5 657.0,251.4 658.4,251.7 659.8,251.4 661.2,251.2 662.6,251.2 664.0,250.7 665.3,251.0 666.5,250.2 667.8,249.8 669.0,250.1 670.3,250.0" fill="none" stroke="#fa00fa" stroke-width="3.0" stroke-linejoin="round" stroke-linecap="round"/>
<text x="533.5" y="280.2" font-size="9.9" fill="#161616" textLength="24.3" lengthAdjust="spacingAndGlyphs">-9.8%</text>
<path d="M560.4,277.0 H578.1" stroke="#111" stroke-width="1.2"/>
<path d="M583.1,277.0 L578.1,274.4 L578.1,279.6 Z" fill="#111"/>
<text x="624.3" y="280.2" font-size="9.9" fill="#161616" textLength="24.3" lengthAdjust="spacingAndGlyphs">-9.6%</text>
<path d="M622,276.8 H609.9" stroke="#111" stroke-width="1.2"/>
<path d="M604.9,276.8 L609.9,274.2 L609.9,279.40000000000003 Z" fill="#111"/>
<text x="565.7" y="228" font-size="9.9" fill="#161616" textLength="70.6" lengthAdjust="spacingAndGlyphs">25-75% quartiles</text>
<path d="M638.1,225.9 C646,225 650,230 650.8,236.5" fill="none" stroke="#111" stroke-width="0.9"/>
<path d="M651.7,240.9 L649,236.2 L653.2,236.2 Z" fill="#111"/>
<path d="M496.5,309.1 V293.7" stroke="#666" stroke-width="1"/>
<path d="M496.5,290.7 L494.7,294.7 L498.3,294.7 Z" fill="#333"/>
<polyline points="496.8,309 529.4,309 529.4,290 640.2,290 640.2,309 669.6,309" fill="none" stroke="#c3253a" stroke-width="2"/>
<text x="642.9" y="303.8" font-size="9.9" fill="#c3253a" textLength="36.9" lengthAdjust="spacingAndGlyphs">30% BW</text>
<path d="M496.1,316.5 H672.7 M496.5,316.5 V314.0 M529.5,316.5 V314.0 M562.5,316.5 V314.0 M594.5,316.5 V314.0 M627.5,316.5 V314.0 M660.5,316.5 V314.0" fill="none" stroke="#333" stroke-width="1"/>
<text class="b" x="496.4" y="327.8" font-size="10.5" text-anchor="middle">-120</text>
<text class="b" x="529.2" y="327.8" font-size="10.5" text-anchor="middle">0</text>
<text class="b" x="562.1" y="327.8" font-size="10.5" text-anchor="middle">120</text>
<text class="b" x="594.3" y="327.8" font-size="10.5" text-anchor="middle">240</text>
<text class="b" x="627.2" y="327.8" font-size="10.5" text-anchor="middle">360</text>
<text class="b" x="660" y="327.8" font-size="10.5" text-anchor="middle">480</text>
<text class="b" x="560.6" y="344.4" font-size="13.5" textLength="49.1" lengthAdjust="spacingAndGlyphs">Time (s)</text>
</g>
</svg>
</body></html>
